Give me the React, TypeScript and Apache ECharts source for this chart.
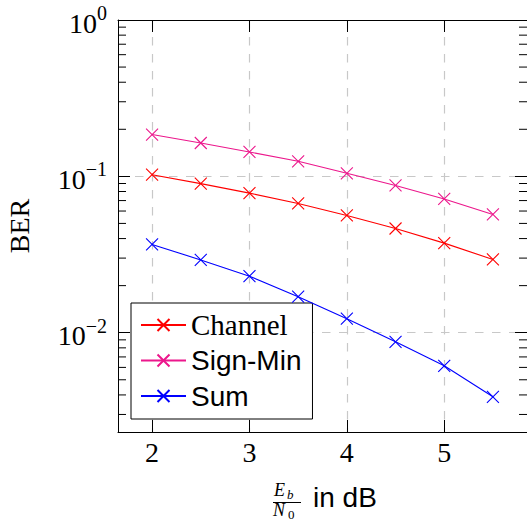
import React, { useEffect, useRef } from "react";
import * as echarts from "echarts";

const SERIF = "Liberation Serif";
const SANS = "Liberation Sans";

const xValues = [2, 2.5, 3, 3.5, 4, 4.5, 5, 5.5];
const channel = [0.1025, 0.0898, 0.0781, 0.0671, 0.0562, 0.0464, 0.0374, 0.0294];
const signMin = [0.185, 0.1634, 0.1432, 0.1248, 0.1046, 0.0875, 0.0717, 0.0571];
const sum = [0.0367, 0.0292, 0.023, 0.017, 0.0123, 0.00875, 0.00614, 0.00389];

const X_MIN = 1.65;
const X_MAX = 5.85;
const Y_MIN = 0.002317;
const Y_MAX = 1;
const minorTickValues = [
  0.003, 0.004, 0.005, 0.006, 0.007, 0.008, 0.009,
  0.02, 0.03, 0.04, 0.05, 0.06, 0.07, 0.08, 0.09,
  0.2, 0.3, 0.4, 0.5, 0.6, 0.7, 0.8, 0.9,
];

const seriesDefs = [
  { name: "Channel", color: "#ff0000", data: channel },
  { name: "Sign-Min", color: "#ec178c", data: signMin },
  { name: "Sum", color: "#0000ff", data: sum },
];

const CROSS = "path://M0,0L10,10M10,0L0,10";

export default function App() {
  const ref = useRef<HTMLDivElement>(null);
  useEffect(() => {
    if (!ref.current) return;
    const chart = echarts.init(ref.current, null, { renderer: "svg" });
    const tickStyle = { color: "#000", width: 1 };
    const option: any = {
      animation: false,
      backgroundColor: "#fff",
      textStyle: { fontFamily: SERIF },
      grid: { left: 118, top: 20, width: 412, height: 412 },
      xAxis: [
        {
          type: "value",
          min: X_MIN,
          max: X_MAX,
          position: "bottom",
          axisLine: { show: true, onZero: false, lineStyle: { color: "#000", width: 1 } },
          axisTick: { show: true, inside: true, length: 12, lineStyle: tickStyle },
          axisLabel: {
            showMinLabel: false,
            showMaxLabel: false,
            margin: 6,
            color: "#000",
            fontFamily: SERIF,
            fontSize: 28,
          },
          splitLine: {
            show: true,
            showMinLine: false,
            showMaxLine: false,
            lineStyle: { color: "#c8c8c8", type: [8.5, 8.5], width: 1.2 },
          },
        },
        {
          type: "value",
          min: X_MIN,
          max: X_MAX,
          position: "top",
          axisLine: { show: true, onZero: false, lineStyle: { color: "#000", width: 1 } },
          axisTick: { show: true, inside: true, length: 12, lineStyle: tickStyle },
          axisLabel: { show: false },
          splitLine: { show: false },
        },
      ],
      yAxis: [
        {
          type: "log",
          logBase: 10,
          min: Y_MIN,
          max: Y_MAX,
          position: "left",
          axisLine: { show: true, onZero: false, lineStyle: { color: "#000", width: 1 } },
          axisTick: { show: true, inside: true, length: 12, lineStyle: tickStyle },
          axisLabel: {
            showMinLabel: false,
            margin: 11,
            fontFamily: SERIF,
            formatter: (v: number) => {
              const e = Math.round(Math.log10(v));
              return `{b|10}{s|${e < 0 ? "\u2212" + -e : e}}`;
            },
            rich: {
              b: { fontSize: 28, fontFamily: SERIF, color: "#000", lineHeight: 34, padding: [6, 0, 0, 0] },
              s: { fontSize: 20, fontFamily: SERIF, color: "#000", lineHeight: 20, verticalAlign: "top" },
            },
          },
          splitLine: {
            show: true,
            showMinLine: false,
            showMaxLine: false,
            lineStyle: { color: "#c8c8c8", type: [8.5, 8.5], width: 1.2 },
          },
        },
        {
          type: "log",
          logBase: 10,
          min: Y_MIN,
          max: Y_MAX,
          position: "right",
          axisLine: { show: true, onZero: false, lineStyle: { color: "#000", width: 1 } },
          axisTick: { show: true, inside: true, length: 12, lineStyle: tickStyle },
          axisLabel: { show: false },
          splitLine: { show: false },
        },
      ],
      legend: {
        show: true,
        orient: "vertical",
        left: 131,
        top: 303,
        padding: [7, 11, 8, 9],
        itemWidth: 45,
        itemHeight: 15,
        itemGap: 5.5,
        borderColor: "#000",
        borderWidth: 1,
        borderRadius: 0,
        backgroundColor: "#fff",
        data: seriesDefs.map((s) => s.name),
        formatter: (name: string) => (name === "Channel" ? `{serif|${name}}` : `{sans|${name}}`),
        textStyle: {
          color: "#000",
          fontSize: 28,
          fontFamily: SANS,
          lineHeight: 30,
          rich: {
            serif: { fontFamily: SERIF, fontSize: 29, lineHeight: 30, color: "#000" },
            sans: { fontFamily: SANS, fontSize: 28, lineHeight: 30, color: "#000" },
          },
        },
      },
      series: [
        ...seriesDefs.map((s) => ({
          name: s.name,
          type: "line",
          xAxisIndex: 0,
          yAxisIndex: 0,
          data: xValues.map((x, i) => [x, s.data[i]]),
          symbol: CROSS,
          symbolSize: 12,
          showSymbol: true,
          color: s.color,
          lineStyle: { color: s.color, width: 1.1 },
          itemStyle: { color: s.color, borderColor: s.color, borderWidth: 1.1 },
          z: 5,
        })),
        {
          type: "custom",
          xAxisIndex: 0,
          yAxisIndex: 0,
          silent: true,
          data: minorTickValues.map((v) => [X_MIN, v]),
          renderItem: (params: any, api: any) => {
            const y = api.coord([X_MIN, api.value(1)])[1];
            const cs = params.coordSys;
            return {
              type: "group",
              children: [
                {
                  type: "line",
                  shape: { x1: cs.x, y1: y, x2: cs.x + 8, y2: y },
                  style: { stroke: "#000", lineWidth: 1 },
                },
                {
                  type: "line",
                  shape: { x1: cs.x + cs.width - 8, y1: y, x2: cs.x + cs.width, y2: y },
                  style: { stroke: "#000", lineWidth: 1 },
                },
              ],
            };
          },
        },
      ],
      graphic: [
        {
          type: "text",
          x: 19,
          y: 226,
          rotation: Math.PI / 2,
          style: {
            text: "BER",
            fontFamily: SERIF,
            fontSize: 28,
            fill: "#000",
            align: "center",
            verticalAlign: "middle",
          },
        },
        {
          type: "text",
          x: 274,
          y: 499,
          style: { text: "E", fontFamily: SERIF, fontStyle: "italic", fontSize: 18, fill: "#000", verticalAlign: "bottom" },
        },
        {
          type: "text",
          x: 287,
          y: 501,
          style: { text: "b", fontFamily: SERIF, fontStyle: "italic", fontSize: 13, fill: "#000", verticalAlign: "bottom" },
        },
        {
          type: "line",
          shape: { x1: 273, y1: 502.5, x2: 301, y2: 502.5 },
          style: { stroke: "#000", lineWidth: 1 },
        },
        {
          type: "text",
          x: 273,
          y: 519,
          style: { text: "N", fontFamily: SERIF, fontStyle: "italic", fontSize: 18, fill: "#000", verticalAlign: "bottom" },
        },
        {
          type: "text",
          x: 288,
          y: 521,
          style: { text: "0", fontFamily: SERIF, fontSize: 13, fill: "#000", verticalAlign: "bottom" },
        },
        {
          type: "text",
          x: 313,
          y: 497,
          style: { text: "in dB", fontFamily: SANS, fontSize: 28, fill: "#000", verticalAlign: "middle" },
        },
      ],
    };
    chart.setOption(option);
    return () => chart.dispose();
  }, []);
  return (
    <div
      ref={ref}
      style={{ position: "fixed", left: 0, top: 0, width: 527, height: 521, background: "#fff" }}
    />
  );
}
